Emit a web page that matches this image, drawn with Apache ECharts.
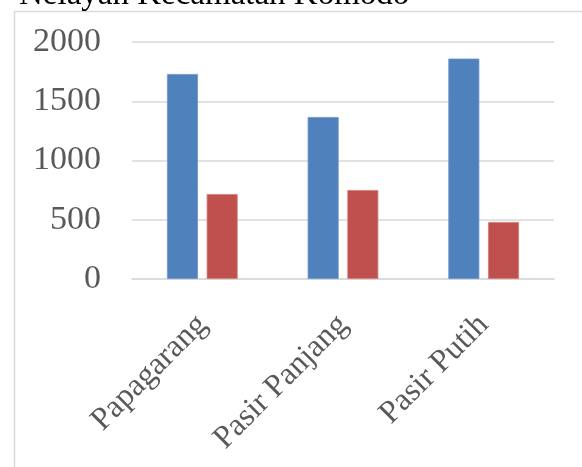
<!DOCTYPE html>
<html>
<head>
<meta charset="utf-8">
<script src="https://cdn.jsdelivr.net/npm/echarts@6/dist/echarts.min.js"></script>
<style>
html, body { margin: 0; padding: 0; background: #fff; }
#main { width: 582px; height: 467px; }
</style>
</head>
<body>
<div id="main"></div>
<script>
var categories = ["Papagarang", "Pasir Panjang", "Pasir Putih"];
var seriesA = [1730, 1367, 1860]; // biru
var seriesB = [717, 751, 481];    // merah
var yTicks = [0, 500, 1000, 1500, 2000];

var chart = echarts.init(document.getElementById("main"));
var font = "'Liberation Serif', 'DejaVu Serif', serif";

var option = {
    animation: false,
    title: {
        text: "Nelayan Kecamatan Komodo",
        left: 14,
        top: -26,
        textStyle: { fontFamily: font, fontSize: 33, fontWeight: 'normal', color: '#000' }
    },
    graphic: [
        { type: 'line', shape: { x1: 14.5, y1: 11, x2: 14.5, y2: 467 }, style: { stroke: '#d9d9d9', lineWidth: 1.5 } },
        { type: 'line', shape: { x1: 14, y1: 11.5, x2: 582, y2: 11.5 }, style: { stroke: '#d9d9d9', lineWidth: 1.5 } }
    ],
    grid: { left: 132, right: 28, top: 42, bottom: 188, containLabel: false },
    xAxis: {
        type: 'category',
        data: categories,
        axisTick: { show: false },
        axisLine: { lineStyle: { color: '#d9d9d9', width: 1.5 } },
        axisLabel: {
            rotate: 45,
            margin: 41,
            interval: 0,
            fontFamily: font,
            fontSize: 32,
            color: '#595959'
        }
    },
    yAxis: {
        type: 'value',
        min: yTicks[0],
        max: yTicks[yTicks.length - 1],
        interval: 500,
        axisLine: { show: false },
        axisTick: { show: false },
        splitLine: { lineStyle: { color: '#d9d9d9', width: 1.5 } },
        axisLabel: {
            margin: 31,
            fontFamily: font,
            fontSize: 34,
            color: '#595959',
            formatter: function(v) { return String(v); }
        }
    },
    series: [{
        type: 'bar',
        data: seriesA,
        barWidth: 31,
        barGap: '28%',
        itemStyle: { color: '#4f81bd', borderColor: '#6f96c8', borderWidth: 0.8 }
    }, {
        type: 'bar',
        data: seriesB,
        barWidth: 31,
        itemStyle: { color: '#c0504d', borderColor: '#d47c79', borderWidth: 0.8 }
    }]
};

chart.setOption(option);
window.addEventListener('resize', function() {
    chart.resize();
});
</script>
</body>
</html>
